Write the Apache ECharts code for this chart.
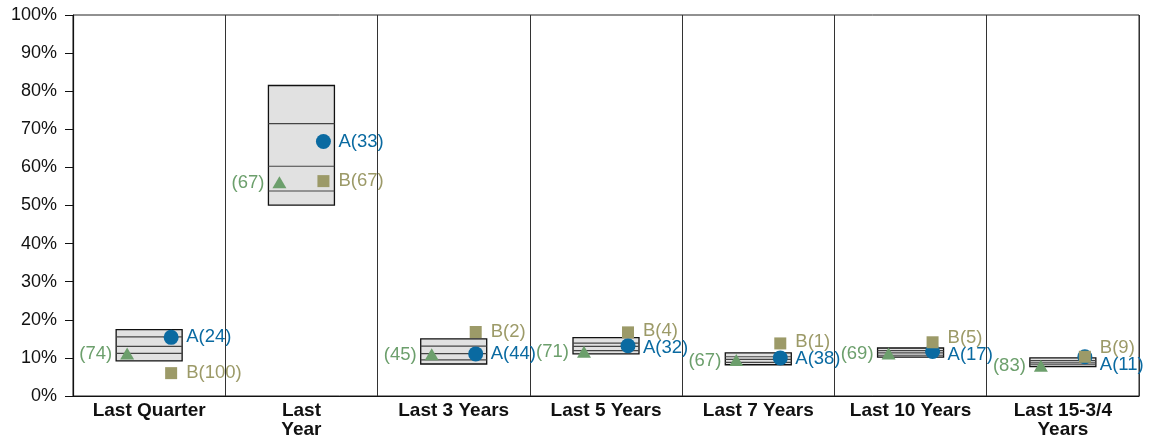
<!DOCTYPE html>
<html>
<head>
<meta charset="utf-8">
<script src="https://cdn.jsdelivr.net/npm/echarts@6/dist/echarts.min.js"></script>
<style>
  html, body { margin: 0; padding: 0; background: #fff; }
  #chart { width: 1150px; height: 435px; }
</style>
</head>
<body>
<div id="chart"></div>
<script>
// Periods along the horizontal axis
const categories = ['Last Quarter', 'Last\nYear', 'Last 3 Years', 'Last 5 Years', 'Last 7 Years', 'Last 10 Years', 'Last 15-3/4\nYears'];

// Universe distribution per period (%): 95th, 75th, median, 25th, 5th percentile
const pct95 = [17.4, 81.5, 15.0, 15.3, 11.3, 12.6, 10.0];
const pct75 = [15.5, 71.5, 13.1, 13.9, 10.3, 11.9, 9.3];
const pct50 = [13.0, 60.3, 11.1, 13.0, 9.6, 11.3, 8.7];
const pct25 = [11.2, 53.8, 9.5, 11.9, 8.8, 10.7, 8.2];
const pct05 = [9.2, 50.1, 8.4, 11.05, 8.2, 10.2, 7.7];

// Portfolio A returns (%) and percentile ranks
const seriesA = [15.4, 66.8, 11.05, 13.2, 10.0, 11.7, 10.3];
const rankA = [24, 33, 44, 32, 38, 17, 11];

// Portfolio B returns (%) and percentile ranks
const seriesB = [6.0, 56.4, 16.8, 16.7, 13.8, 14.1, 10.3];
const rankB = [100, 67, 2, 4, 1, 5, 9];

// Benchmark returns (%) and percentile ranks
const seriesC = [11.0, 56.0, 10.8, 11.5, 9.3, 11.05, 7.8];
const rankC = [74, 67, 45, 71, 67, 69, 83];

// Y axis tick values
const yTicks = [0, 10, 20, 30, 40, 50, 60, 70, 80, 90, 100];

const colorA = '#0a6aa1';
const colorB = '#9c9a68';
const colorC = '#6c9f6c';
const FONT = 'Liberation Sans, Arial, sans-serif';
const MIN_LABEL_GAP = 17;

const chart = echarts.init(document.getElementById('chart'));

const boxData = categories.map((c, i) => [i, pct95[i], pct75[i], pct50[i], pct25[i], pct05[i]]);

function renderBox(params, api) {
  const i = api.value(0);
  const half = 33;
  const x = api.coord([i, 0])[0];
  const yTop = api.coord([i, api.value(1)])[1];
  const yBot = api.coord([i, api.value(5)])[1];
  const children = [{
    type: 'rect',
    shape: { x: x - half, y: yTop, width: half * 2, height: yBot - yTop },
    style: { fill: '#e1e1e1', stroke: '#111', lineWidth: 1.3 }
  }];
  [2, 3, 4].forEach(k => {
    const y = api.coord([i, api.value(k)])[1];
    children.push({
      type: 'line',
      shape: { x1: x - half, y1: y, x2: x + half, y2: y },
      style: { stroke: '#444', lineWidth: 1.2 }
    });
  });
  return { type: 'group', children: children };
}

// A and B labels sit on the same side; when their marks are close,
// spread the two labels apart around their midpoint.
function labelY(api, i, own, other, isUpper) {
  const yo = api.coord([i, own])[1];
  const yt = api.coord([i, other])[1];
  if (Math.abs(yo - yt) >= MIN_LABEL_GAP) return yo;
  const mid = (yo + yt) / 2;
  const ownAbove = yo < yt || (yo === yt && isUpper);
  return ownAbove ? mid - MIN_LABEL_GAP / 2 : mid + MIN_LABEL_GAP / 2;
}

function makeMarker(kind, color, dx, labelSide, textFn, pairValues, isUpper) {
  return function (params, api) {
    const i = api.value(0);
    const v = api.value(1);
    const p = api.coord([i, v]);
    const cx = p[0] + dx;
    const cy = p[1];
    let shape;
    if (kind === 'circle') {
      shape = { type: 'circle', shape: { cx: cx, cy: cy, r: 7.5 }, style: { fill: color } };
    } else if (kind === 'rect') {
      shape = { type: 'rect', shape: { x: cx - 6, y: cy - 6, width: 12, height: 12 }, style: { fill: color } };
    } else {
      shape = { type: 'polygon', shape: { points: [[cx, cy - 6.5], [cx + 7, cy + 5.5], [cx - 7, cy + 5.5]] }, style: { fill: color } };
    }
    const ly = pairValues ? labelY(api, i, v, pairValues[i], isUpper) : cy;
    const label = {
      type: 'text',
      style: {
        text: textFn(params.dataIndex),
        x: labelSide === 'right' ? cx + 15 : cx - 15,
        y: ly,
        align: labelSide === 'right' ? 'left' : 'right',
        verticalAlign: 'middle',
        fill: color,
        font: '18.5px ' + FONT
      }
    };
    return { type: 'group', children: [shape, label] };
  };
}

chart.setOption({
  animation: false,
  grid: {
    left: 73, right: 11, top: 15, bottom: 39,
    outerBoundsMode: 'none', containLabel: false,
    show: true, borderColor: '#222', borderWidth: 1, backgroundColor: 'transparent'
  },
  xAxis: {
    type: 'category',
    data: categories,
    boundaryGap: true,
    axisLine: { show: true, lineStyle: { color: '#111', width: 1.2 } },
    axisTick: { show: false },
    splitLine: { show: true, interval: 0, lineStyle: { color: '#333', width: 1 } },
    axisLabel: {
      interval: 0, margin: 5,
      color: '#111', fontFamily: FONT, fontSize: 19, fontWeight: 'bold', lineHeight: 19
    }
  },
  yAxis: {
    type: 'value',
    min: yTicks[0], max: yTicks[yTicks.length - 1], interval: 10,
    axisLine: { show: true, lineStyle: { color: '#111', width: 1.2 } },
    axisTick: { show: true, length: 8, lineStyle: { color: '#111' } },
    splitLine: { show: false },
    axisLabel: {
      margin: 16, color: '#111', fontFamily: FONT, fontSize: 18,
      formatter: v => v + '%'
    }
  },
  series: [
    { type: 'custom', name: 'Universe', renderItem: renderBox, data: boxData, z: 2 },
    {
      type: 'custom', name: 'Benchmark', z: 3,
      renderItem: makeMarker('triangle', colorC, -22, 'left', i => '(' + rankC[i] + ')', null, false),
      data: seriesC.map((v, i) => [i, v])
    },
    {
      type: 'custom', name: 'A', z: 4,
      renderItem: makeMarker('circle', colorA, 22, 'right', i => 'A(' + rankA[i] + ')', seriesB, false),
      data: seriesA.map((v, i) => [i, v])
    },
    {
      type: 'custom', name: 'B', z: 5,
      renderItem: makeMarker('rect', colorB, 22, 'right', i => 'B(' + rankB[i] + ')', seriesA, true),
      data: seriesB.map((v, i) => [i, v])
    }
  ]
});
</script>
</body>
</html>
